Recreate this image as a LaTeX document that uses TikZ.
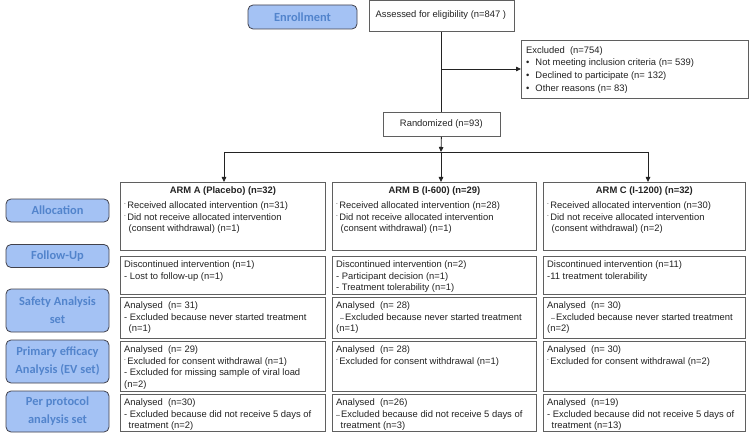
\documentclass[tikz,border=0pt]{standalone}
\usepackage{fontspec}
\setmainfont{Liberation Sans}
\newfontfamily\labfont{Carlito}
\usetikzlibrary{arrows.meta}
\definecolor{boxgray}{RGB}{95,95,95}
\definecolor{textgray}{RGB}{35,35,35}
\definecolor{labfill}{RGB}{164,194,244}
\definecolor{labtext}{RGB}{82,132,204}
\definecolor{labdraw}{RGB}{65,65,75}
\newcommand\mytick{\raisebox{0.55ex}{\fontsize{5}{5}\selectfont -}\hspace{1.5pt}}
\newcommand\mydash{{\fontsize{7}{7}\selectfont--}\hspace{1pt}}
\begin{document}
\begin{tikzpicture}[x=1pt,y=-1pt,
  box/.style={draw=boxgray, line width=0.8pt, inner sep=0pt, anchor=north west},
  txt/.style={inner sep=0pt, anchor=north west, align=left, text=textgray, font=\fontsize{9.4}{11.5}\selectfont},
  ttl/.style={inner sep=0pt, text=textgray, font=\fontsize{9.4}{12}\selectfont\bfseries},
  lab/.style={draw=labdraw, line width=0.8pt, fill=labfill, rounded corners=5pt, minimum width=103pt, inner sep=0pt, align=center, text=labtext, font=\labfont\bfseries\fontsize{12.4}{18}\selectfont},
  conn/.style={draw=textgray, line width=0.8pt},
  arr/.style={conn, -{Triangle[length=5pt,width=4.5pt]}}
]
\useasboundingbox (0,0) rectangle (750,441);
\fill[white] (0,0) rectangle (750,441);

% top part
\node[lab, minimum width=109pt, minimum height=24pt] (enr) at (302.5,17) {Enrollment};
\node[box, minimum width=145pt, minimum height=31pt] (ass) at (368.5,0.5) {};
\node[txt] (asst) at ([xshift=7pt,yshift=-10pt]ass.north west) {Assessed for eligibility (n=847 )};
\node[box, minimum width=227pt, minimum height=58pt] (exc) at (521,40) {};
\node[txt, font=\fontsize{9.4}{12.7}\selectfont] (exct) at ([xshift=5pt,yshift=-6pt]exc.north west) {Excluded\ \ (n=754)\\
\textbullet\hspace{6pt}Not meeting inclusion criteria (n= 539)\\
\textbullet\hspace{6pt}Declined to participate (n= 132)\\
\textbullet\hspace{6pt}Other reasons (n= 83)};
\node[box, minimum width=117pt, minimum height=24pt] (rnd) at (382.5,112) {};
\node[ttl, font=\fontsize{9.4}{12}\selectfont] (rndt) at (rnd.center) {Randomized (n=93)};

\coordinate (exj) at (441,69);
\coordinate (jB) at (441,152);
\coordinate (jA) at (224,152);
\coordinate (jC) at (648,152);

\draw[conn] (ass.south) -- (rnd.north);
\draw[arr] (exj) -- (exj -| exc.west);
\draw[arr] (rnd.south) -- (jB);
\draw[conn] (jA) -- (jC);

% arm boxes
\foreach \c/\x/\w in {A/120/205, B/332/204, C/543/202}{
  \node[box, minimum width=\w pt, minimum height=68pt] (\c1) at (\x,182) {};
  \node[box, minimum width=\w pt, minimum height=38pt] (\c2) at (\x,256) {};
  \node[box, minimum width=\w pt, minimum height=41pt] (\c3) at (\x,297) {};
  \node[box, minimum width=\w pt, minimum height=50pt] (\c4) at (\x,341) {};
  \node[box, minimum width=\w pt, minimum height=37pt] (\c5) at (\x,394) {};
}
\draw[arr] (jA) -- (jA |- A1.north);
\draw[arr] (jB) -- (jB |- B1.north);
\draw[arr] (jC) -- (jC |- C1.north);

% left labels
\node[lab, minimum height=23pt] (lal) at (57.5,210.5) {Allocation};
\node[lab, minimum height=23pt] (lfu) at (57.5,256) {Follow-Up};
\node[lab, minimum height=43pt] (lsa) at (57.5,310.5) {Safety Analysis\\set};
\node[lab, minimum height=43pt] (lpe) at (57.5,361.5) {Primary efficacy\\Analysis (EV set)};
\node[lab, minimum height=41pt] (lpp) at (57.5,411.5) {Per protocol\\analysis set};

% row 1
\node[ttl] (A1h) at ([yshift=-9.5pt]A1.north) {ARM A (Placebo) (n=32)};
\node[ttl] (B1h) at ([yshift=-9.5pt]B1.north) {ARM B (I-600) (n=29)};
\node[ttl] (C1h) at ([yshift=-9.5pt]C1.north) {ARM C (I-1200) (n=32)};
\node[txt] (A1t) at ([xshift=4pt,yshift=-19.5pt]A1.north west) {\mytick Received allocated intervention (n=31)\\
\mytick Did not receive allocated intervention\\
\hspace{4.5pt}(consent withdrawal) (n=1)};
\node[txt] (B1t) at ([xshift=4pt,yshift=-19.5pt]B1.north west) {\mytick Received allocated intervention (n=28)\\
\mytick Did not receive allocated intervention\\
\hspace{4.5pt}(consent withdrawal) (n=1)};
\node[txt] (C1t) at ([xshift=4pt,yshift=-19.5pt]C1.north west) {\mytick Received allocated intervention (n=30)\\
\mytick Did not receive allocated intervention\\
\hspace{4.5pt}(consent withdrawal) (n=2)};

% row 2
\node[txt] (A2t) at ([xshift=4pt,yshift=-4.5pt]A2.north west) {Discontinued intervention (n=1)\\
- Lost to follow-up (n=1)};
\node[txt] (B2t) at ([xshift=4pt,yshift=-4.5pt]B2.north west) {Discontinued intervention (n=2)\\
- Participant decision (n=1)\\
- Treatment tolerability (n=1)};
\node[txt] (C2t) at ([xshift=4pt,yshift=-4.5pt]C2.north west) {Discontinued intervention (n=11)\\
-11 treatment tolerability};

% row 3
\node[txt] (A3t) at ([xshift=4pt,yshift=-4.5pt]A3.north west) {Analysed\ \ (n= 31)\\
- Excluded because never started treatment\\
\hspace{4.5pt}(n=1)};
\node[txt] (B3t) at ([xshift=4pt,yshift=-4.5pt]B3.north west) {Analysed\ \ (n= 28)\\
\hspace{4pt}\mydash Excluded because never started treatment\\
(n=1)};
\node[txt] (C3t) at ([xshift=4pt,yshift=-4.5pt]C3.north west) {Analysed\ \ (n= 30)\\
\hspace{4pt}\mydash Excluded because never started treatment\\
(n=2)};

% row 4
\node[txt] (A4t) at ([xshift=4pt,yshift=-4.5pt]A4.north west) {Analysed\ \ (n= 29)\\
\mytick Excluded for consent withdrawal (n=1)\\
- Excluded for missing sample of viral load\\
(n=2)};
\node[txt] (B4t) at ([xshift=4pt,yshift=-4.5pt]B4.north west) {Analysed\ \ (n= 28)\\
\mytick Excluded for consent withdrawal (n=1)};
\node[txt] (C4t) at ([xshift=4pt,yshift=-4.5pt]C4.north west) {Analysed\ \ (n= 30)\\
\mytick Excluded for consent withdrawal (n=2)};

% row 5
\node[txt] (A5t) at ([xshift=4pt,yshift=-4.5pt]A5.north west) {Analysed\ \ (n=30)\\
- Excluded because did not receive 5 days of\\
\hspace{4.5pt}treatment (n=2)};
\node[txt] (B5t) at ([xshift=4pt,yshift=-4.5pt]B5.north west) {Analysed\ \ (n=26)\\
\mydash Excluded because did not receive 5 days of\\
\hspace{4.5pt}treatment (n=3)};
\node[txt] (C5t) at ([xshift=4pt,yshift=-4.5pt]C5.north west) {Analysed\ \ (n=19)\\
- Excluded because did not receive 5 days of\\
\hspace{4.5pt}treatment (n=13)};
\end{tikzpicture}
\end{document}
